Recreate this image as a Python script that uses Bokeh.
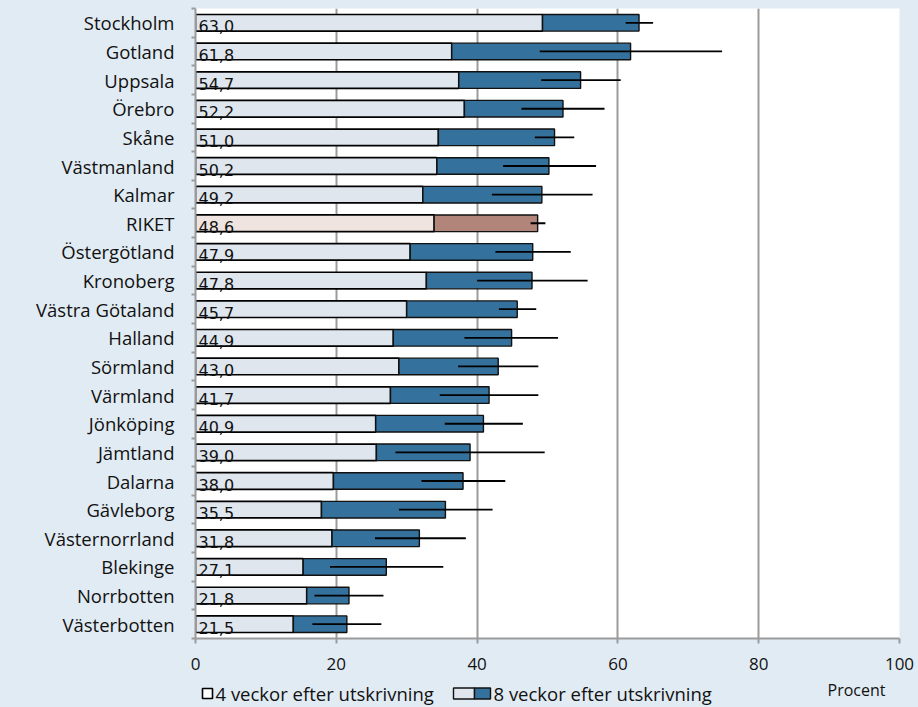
from bokeh.plotting import figure
from bokeh.models import Range1d, FixedTicker
from bokeh.layouts import column
from bokeh.core.properties import value
from bokeh.embed import file_html
from bokeh.resources import INLINE

# ---------------- data (top to bottom) ----------------
regions = ["Stockholm", "Gotland", "Uppsala", "Örebro", "Skåne", "Västmanland",
           "Kalmar", "RIKET", "Östergötland", "Kronoberg", "Västra Götaland",
           "Halland", "Sörmland", "Värmland", "Jönköping", "Jämtland", "Dalarna",
           "Gävleborg", "Västernorrland", "Blekinge", "Norrbotten", "Västerbotten"]
weeks8 = [63.0, 61.8, 54.7, 52.2, 51.0, 50.2, 49.2, 48.6, 47.9, 47.8, 45.7,
          44.9, 43.0, 41.7, 40.9, 39.0, 38.0, 35.5, 31.8, 27.1, 21.8, 21.5]
weeks4 = [49.3, 36.4, 37.4, 38.2, 34.5, 34.3, 32.3, 33.9, 30.5, 32.8, 30.0,
          28.1, 28.9, 27.7, 25.6, 25.7, 19.6, 17.9, 19.4, 15.3, 15.8, 13.9]
ci_low = [61.1, 48.9, 49.1, 46.3, 48.2, 43.7, 42.1, 47.6, 42.6, 40.0, 43.1,
          38.2, 37.3, 34.7, 35.4, 28.4, 32.1, 28.9, 25.5, 19.1, 16.9, 16.6]
ci_high = [65.0, 74.8, 60.4, 58.1, 53.8, 56.9, 56.4, 49.7, 53.3, 55.7, 48.4,
           51.5, 48.7, 48.7, 46.5, 49.6, 44.0, 42.2, 38.4, 35.2, 26.7, 26.4]
x_ticks = [0, 20, 40, 60, 80, 100]
legend_labels = ["4 veckor efter utskrivning", "8 veckor efter utskrivning"]
unit_label = "Procent"

# ---------------- styling ----------------
BG = "#e1ebf3"
GRID = "#9b9b9b"
LIGHT = "#dfe6ee"
DARK = "#34719d"
RIKET_LIGHT = "#f0e4e0"
RIKET_DARK = "#b18579"
TXT = "#111111"
FONT = "Open Sans"

W = 918
LEFT, RIGHT = 195, 19

n = len(regions)
ys = [n - i for i in range(n)]
light_cols = [RIKET_LIGHT if r == "RIKET" else LIGHT for r in regions]
dark_cols = [RIKET_DARK if r == "RIKET" else DARK for r in regions]
val_labels = [f"{v:.1f}".replace(".", ",") for v in weeks8]

p = figure(width=W, height=680, x_range=Range1d(0, 100),
           y_range=Range1d(0.5, n + 0.5), output_backend="svg",
           toolbar_location=None, min_border_left=LEFT, min_border_right=RIGHT,
           min_border_top=8, min_border_bottom=42,
           background_fill_color="white", border_fill_color=BG,
           outline_line_color=None)

p.ygrid.grid_line_color = None
p.xgrid.ticker = FixedTicker(ticks=x_ticks)
p.xgrid.grid_line_color = GRID
p.xgrid.grid_line_width = 2

xa = p.xaxis[0]
xa.ticker = FixedTicker(ticks=x_ticks)
xa.axis_line_color = GRID
xa.axis_line_width = 2
xa.major_tick_line_color = GRID
xa.major_tick_line_width = 2
xa.major_tick_out = 5
xa.major_tick_in = 0
xa.minor_tick_line_color = None
xa.major_label_text_font = FONT
xa.major_label_text_font_size = "17px"
xa.major_label_text_color = TXT
xa.major_label_standoff = 14

ya = p.yaxis[0]
ya.ticker = FixedTicker(ticks=ys, minor_ticks=[k + 0.5 for k in range(n + 1)])
ya.major_label_overrides = {y: r for y, r in zip(ys, regions)}
ya.axis_line_color = GRID
ya.axis_line_width = 2
ya.major_tick_line_color = None
ya.major_tick_out = 0
ya.major_tick_in = 0
ya.minor_tick_line_color = GRID
ya.minor_tick_line_width = 2
ya.minor_tick_out = 4
ya.minor_tick_in = 0
ya.major_label_text_font = FONT
ya.major_label_text_font_size = "18.5px"
ya.major_label_text_color = TXT
ya.major_label_standoff = 17

p.hbar(y=ys, left=0, right=weeks4, height=0.58, fill_color=light_cols,
       line_color="black", line_width=1.7)
p.hbar(y=ys, left=weeks4, right=weeks8, height=0.58, fill_color=dark_cols,
       line_color="#111111", line_width=1.4)
p.segment(x0=ci_low, y0=ys, x1=ci_high, y1=ys, line_color="black", line_width=1.8)
p.text(x=0, y=ys, text=val_labels, x_offset=3, y_offset=3.5,
       text_baseline="alphabetic", text_align="left",
       text_font=value("DejaVu Sans"), text_font_size="16px", text_color=TXT)

# ---------------- legend strip (frame aligned with main plot; x in page pixels) ----------------
lg = figure(width=W, height=27, x_range=Range1d(LEFT, W - RIGHT), y_range=Range1d(0, 27),
            output_backend="svg", toolbar_location=None,
            min_border_left=LEFT, min_border_right=RIGHT, min_border_top=0, min_border_bottom=0,
            x_axis_location=None, y_axis_location=None,
            background_fill_color=BG, border_fill_color=BG, outline_line_color=None)
lg.grid.visible = False
# swatch 1: empty square
lg.rect(x=[207], y=[14], width=10, height=10, fill_color="white",
        line_color="black", line_width=1.6)
# swatch 2: light + dark halves
lg.quad(left=[453, 474], right=[474, 490], bottom=[8.5, 8.5], top=[19.5, 19.5],
        fill_color=[LIGHT, DARK], line_color="#111111", line_width=1.4)
lg.text(x=[215, 493], y=[14, 14], text=legend_labels, text_baseline="middle",
        text_align="left", text_font=value(FONT), text_font_size="18.5px",
        text_color=TXT)
lg.text(x=[856], y=[18], text=[unit_label], text_baseline="middle",
        text_align="center", text_font=value(FONT), text_font_size="16px",
        text_color=TXT)

layout = column(p, lg, spacing=0)

template = """
{% block preamble %}<style>html, body { background-color: #e1ebf3; }</style>{% endblock %}
"""
open("out.html", "w").write(file_html(layout, INLINE, template=template))
